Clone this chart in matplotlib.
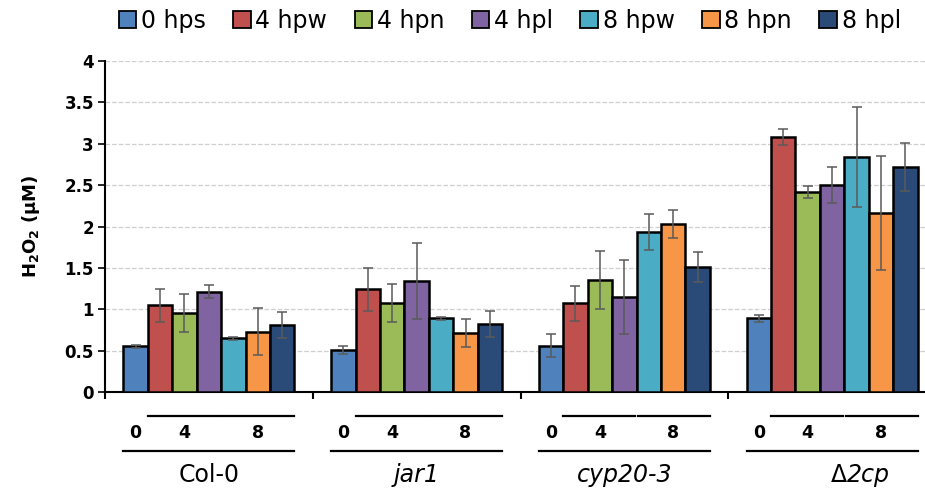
import numpy as np
import matplotlib
matplotlib.use('Agg')
import matplotlib.pyplot as plt
from matplotlib.patches import Patch

plt.rcParams['font.family'] = ['DejaVu Sans']
plt.rcParams['mathtext.fontset'] = 'dejavusans'

# data
genotypes = ['Col-0', 'jar1', 'cyp20-3', '2cp']
geno_italic = [False, True, True, True]
series = ['0 hps', '4 hpw', '4 hpn', '4 hpl', '8 hpw', '8 hpn', '8 hpl']
colors = ['#4F81BD', '#C0504D', '#9BBB59', '#8064A2', '#4BACC6', '#F79646', '#2A4A78']

means = np.array([
    [0.55, 1.05, 0.95, 1.21, 0.65, 0.73, 0.81],
    [0.51, 1.24, 1.07, 1.34, 0.89, 0.71, 0.82],
    [0.56, 1.07, 1.35, 1.15, 1.93, 2.03, 1.51],
    [0.89, 3.08, 2.42, 2.50, 2.84, 2.16, 2.72],
])
errs = np.array([
    [0.02, 0.20, 0.23, 0.08, 0.02, 0.28, 0.16],
    [0.05, 0.26, 0.23, 0.46, 0.02, 0.17, 0.16],
    [0.14, 0.21, 0.35, 0.45, 0.22, 0.17, 0.18],
    [0.04, 0.10, 0.07, 0.22, 0.60, 0.69, 0.29],
])
time_labels = ['0', '4', '8']

gstep = 8.5
fig = plt.figure(figsize=(9.25, 4.96), dpi=100)
ax = fig.add_axes([105/925, 104/496, 831/925, 331/496])

for i, s in enumerate(series):
    x = np.arange(len(genotypes)) * gstep + i
    ax.bar(x, means[:, i], width=1.0, color=colors[i], edgecolor='black',
           linewidth=1.8, zorder=3)
    ax.errorbar(x, means[:, i], yerr=errs[:, i], fmt='none', ecolor='#5a5a5a',
                elinewidth=1.1, capsize=3.5, capthick=1.1, zorder=4)

ax.set_xlim(-1.25, len(genotypes) * gstep - 1.25)
ax.set_ylim(0, 4)
ax.set_yticks(np.arange(0, 4.01, 0.5))
ax.set_yticklabels(['0', '0.5', '1', '1.5', '2', '2.5', '3', '3.5', '4'],
                   fontweight='bold', fontsize=12)
ax.yaxis.grid(True, color='#cfcfcf', linestyle='--', linewidth=0.9, zorder=0)
ax.set_xticks([g * gstep - 1.25 for g in range(len(genotypes))])
ax.set_xticklabels([])
ax.tick_params(axis='x', direction='out', length=5, width=1.5)
ax.tick_params(axis='y', direction='out', length=5, width=1.2, pad=3)
for sp in ['top', 'right']:
    ax.spines[sp].set_visible(False)
ax.spines['left'].set_linewidth(1.5)
ax.spines['bottom'].set_linewidth(1.5)
ax.set_ylabel(r'$\mathbf{H_2O_2}$ (µM)', fontweight='bold', fontsize=13, labelpad=16)

# group annotations under the axis
tr = ax.get_xaxis_transform()
for g, name in enumerate(genotypes):
    b = g * gstep
    ax.plot([b + 0.5, b + 3.45], [-0.072, -0.072], color='black', lw=1.6,
            transform=tr, clip_on=False)
    ax.plot([b + 3.55, b + 6.5], [-0.072, -0.072], color='black', lw=1.6,
            transform=tr, clip_on=False)
    ax.plot([b - 0.5, b + 6.5], [-0.177, -0.177], color='black', lw=1.6,
            transform=tr, clip_on=False)
    for xx, lab in zip([b, b + 2, b + 5], time_labels):
        ax.text(xx, -0.125, lab, transform=tr, ha='center', va='center',
                fontweight='bold', fontsize=12.5)
    if name == '2cp':
        ax.text(b + 3.6, -0.252, '\u0394', transform=tr, ha='right', va='center',
                fontsize=17)
        ax.text(b + 3.6, -0.252, name, transform=tr, ha='left', va='center',
                fontsize=17, style='italic')
    else:
        ax.text(b + 3, -0.252, name, transform=tr, ha='center', va='center',
                fontsize=17, style='italic' if geno_italic[g] else 'normal')

handles = [Patch(facecolor=c, edgecolor='black', linewidth=1.3) for c in colors]
fig.legend(handles, series, loc='center', bbox_to_anchor=(0.551, 0.958), ncol=7,
           frameon=False, fontsize=17, handlelength=0.75, handleheight=0.75,
           handletextpad=0.2, columnspacing=1.15)

fig.savefig('out.png', dpi=100)
